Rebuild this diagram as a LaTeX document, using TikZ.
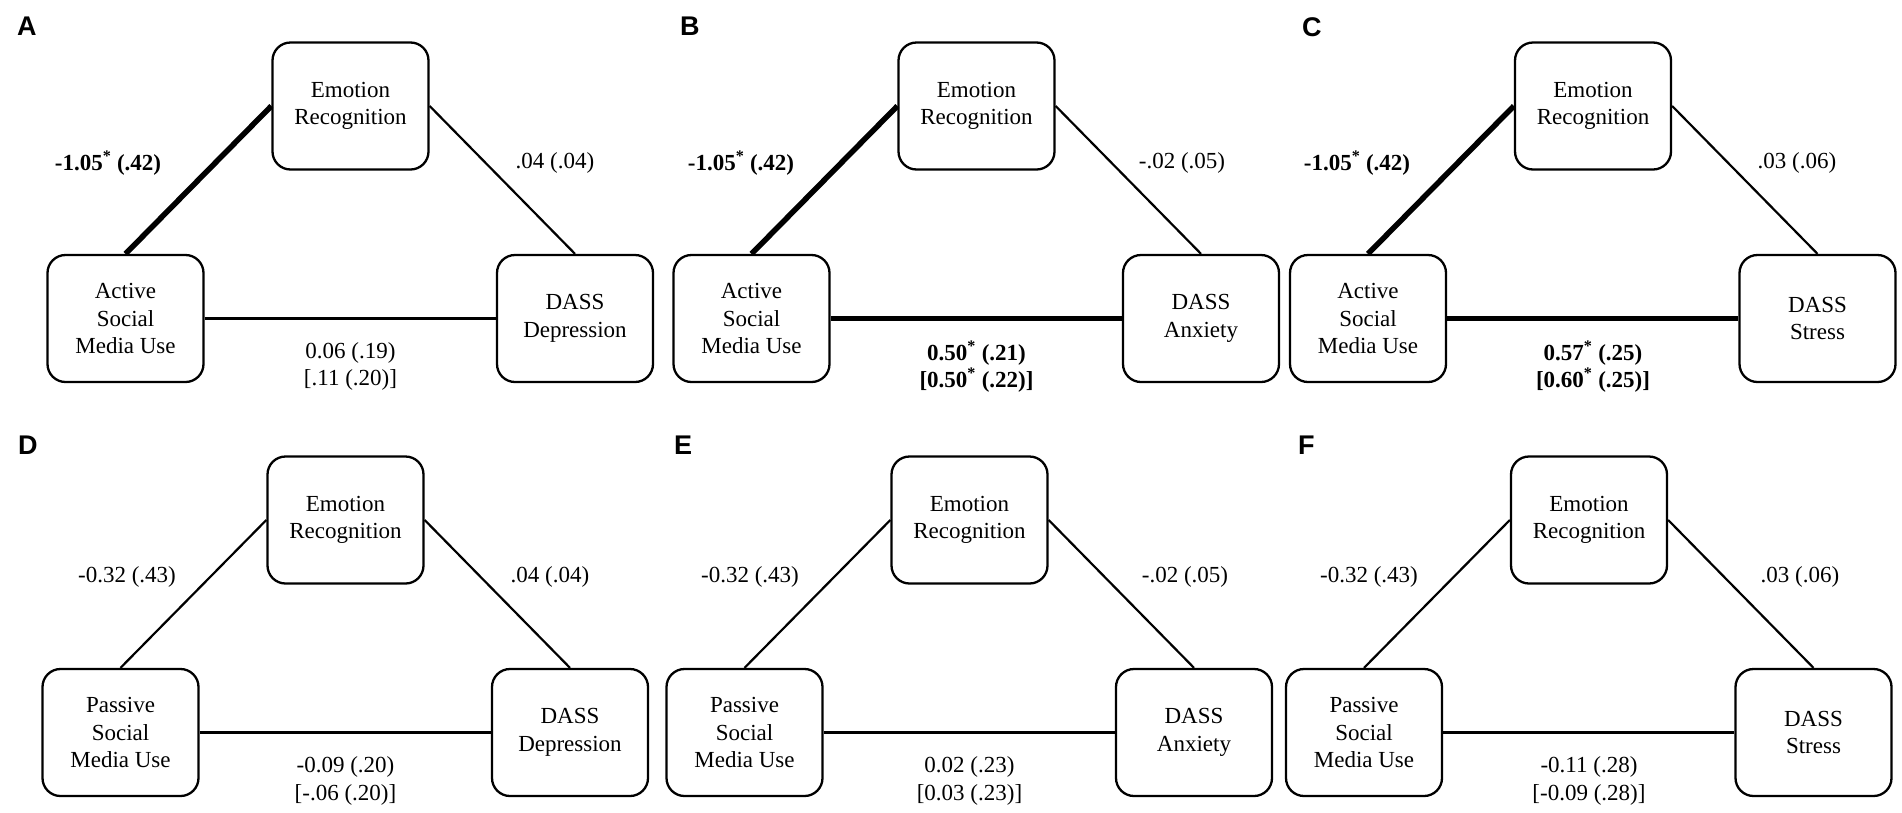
\documentclass[tikz,border=0pt]{standalone}
\usepackage{fontspec}
\setmainfont{Liberation Serif}
\newfontfamily\lettfont{Liberation Sans}
\begin{document}
\begin{tikzpicture}[x=1pt,y=-1pt,
  boxnode/.style={draw, line width=2.3pt, rounded corners=18pt, minimum width=156pt, minimum height=127pt, align=center, font=\fontsize{23}{27.5}\selectfont, inner sep=0pt},
  thinln/.style={line width=2.2pt},
  thickln/.style={line width=5.5pt},
  lbl/.style={font=\fontsize{23}{27.5}\selectfont, inner sep=0pt},
  panlbl/.style={font=\lettfont\bfseries\fontsize{27}{27}\selectfont, inner sep=0pt, anchor=north west}]
\useasboundingbox[fill=white] (0,0) rectangle (1902,812);

% ---------- Panel A ----------
\node[panlbl] (labA) at (17,17) {A};
\node[boxnode] (aE) at (350.5,106) {Emotion\\Recognition};
\node[boxnode] (aS) at (125.5,318.5) {Active\\Social\\Media Use};
\node[boxnode] (aD) at (575,318.5) {DASS\\Depression};
\draw[thickln] (aS.north) -- (aE.west);
\draw[thinln] (aE.east) -- (aD.north);
\draw[thinln] (aS.east) -- (aD.west);
\node[lbl] (aL1) at (108,163) {\textbf{-1.05\textsuperscript{*} (.42)}};
\node[lbl] (aL2) at (555,163) {.04 (.04)};
\node[lbl] (aL3) at (350.5,353) {0.06 (.19)};
\node[lbl] (aL4) at (350.5,380) {[.11 (.20)]};

% ---------- Panel B ----------
\node[panlbl] (labB) at (680,17) {B};
\node[boxnode] (bE) at (976.5,106) {Emotion\\Recognition};
\node[boxnode] (bS) at (751.5,318.5) {Active\\Social\\Media Use};
\node[boxnode] (bD) at (1201,318.5) {DASS\\Anxiety};
\draw[thickln] (bS.north) -- (bE.west);
\draw[thinln] (bE.east) -- (bD.north);
\draw[thickln] (bS.east) -- (bD.west);
\node[lbl] (bL1) at (741,163) {\textbf{-1.05\textsuperscript{*} (.42)}};
\node[lbl] (bL2) at (1182,163) {-.02 (.05)};
\node[lbl] (bL3) at (976.5,353) {\textbf{0.50\textsuperscript{*} (.21)}};
\node[lbl] (bL4) at (976.5,380) {\textbf{[0.50\textsuperscript{*} (.22)]}};

% ---------- Panel C ----------
\node[panlbl] (labC) at (1302,17) {C};
\node[boxnode] (cE) at (1593,106) {Emotion\\Recognition};
\node[boxnode] (cS) at (1368,318.5) {Active\\Social\\Media Use};
\node[boxnode] (cD) at (1817.5,318.5) {DASS\\Stress};
\draw[thickln] (cS.north) -- (cE.west);
\draw[thinln] (cE.east) -- (cD.north);
\draw[thickln] (cS.east) -- (cD.west);
\node[lbl] (cL1) at (1357,163) {\textbf{-1.05\textsuperscript{*} (.42)}};
\node[lbl] (cL2) at (1797,163) {.03 (.06)};
\node[lbl] (cL3) at (1593,353) {\textbf{0.57\textsuperscript{*} (.25)}};
\node[lbl] (cL4) at (1593,380) {\textbf{[0.60\textsuperscript{*} (.25)]}};

% ---------- Panel D ----------
\node[panlbl] (labD) at (18,436) {D};
\node[boxnode] (dE) at (345.5,520) {Emotion\\Recognition};
\node[boxnode] (dS) at (120.5,732.5) {Passive\\Social\\Media Use};
\node[boxnode] (dD) at (570,732.5) {DASS\\Depression};
\draw[thinln] (dS.north) -- (dE.west);
\draw[thinln] (dE.east) -- (dD.north);
\draw[thinln] (dS.east) -- (dD.west);
\node[lbl] (dL1) at (127,577) {-0.32 (.43)};
\node[lbl] (dL2) at (550,577) {.04 (.04)};
\node[lbl] (dL3) at (345.5,767) {-0.09 (.20)};
\node[lbl] (dL4) at (345.5,795) {[-.06 (.20)]};

% ---------- Panel E ----------
\node[panlbl] (labE) at (674,436) {E};
\node[boxnode] (eE) at (969.5,520) {Emotion\\Recognition};
\node[boxnode] (eS) at (744.5,732.5) {Passive\\Social\\Media Use};
\node[boxnode] (eD) at (1194,732.5) {DASS\\Anxiety};
\draw[thinln] (eS.north) -- (eE.west);
\draw[thinln] (eE.east) -- (eD.north);
\draw[thinln] (eS.east) -- (eD.west);
\node[lbl] (eL1) at (750,577) {-0.32 (.43)};
\node[lbl] (eL2) at (1185,577) {-.02 (.05)};
\node[lbl] (eL3) at (969.5,767) {0.02 (.23)};
\node[lbl] (eL4) at (969.5,795) {[0.03 (.23)]};

% ---------- Panel F ----------
\node[panlbl] (labF) at (1298,436) {F};
\node[boxnode] (fE) at (1589,520) {Emotion\\Recognition};
\node[boxnode] (fS) at (1364,732.5) {Passive\\Social\\Media Use};
\node[boxnode] (fD) at (1813.5,732.5) {DASS\\Stress};
\draw[thinln] (fS.north) -- (fE.west);
\draw[thinln] (fE.east) -- (fD.north);
\draw[thinln] (fS.east) -- (fD.west);
\node[lbl] (fL1) at (1369,577) {-0.32 (.43)};
\node[lbl] (fL2) at (1800,577) {.03 (.06)};
\node[lbl] (fL3) at (1589,767) {-0.11 (.28)};
\node[lbl] (fL4) at (1589,795) {[-0.09 (.28)]};
\end{tikzpicture}
\end{document}
